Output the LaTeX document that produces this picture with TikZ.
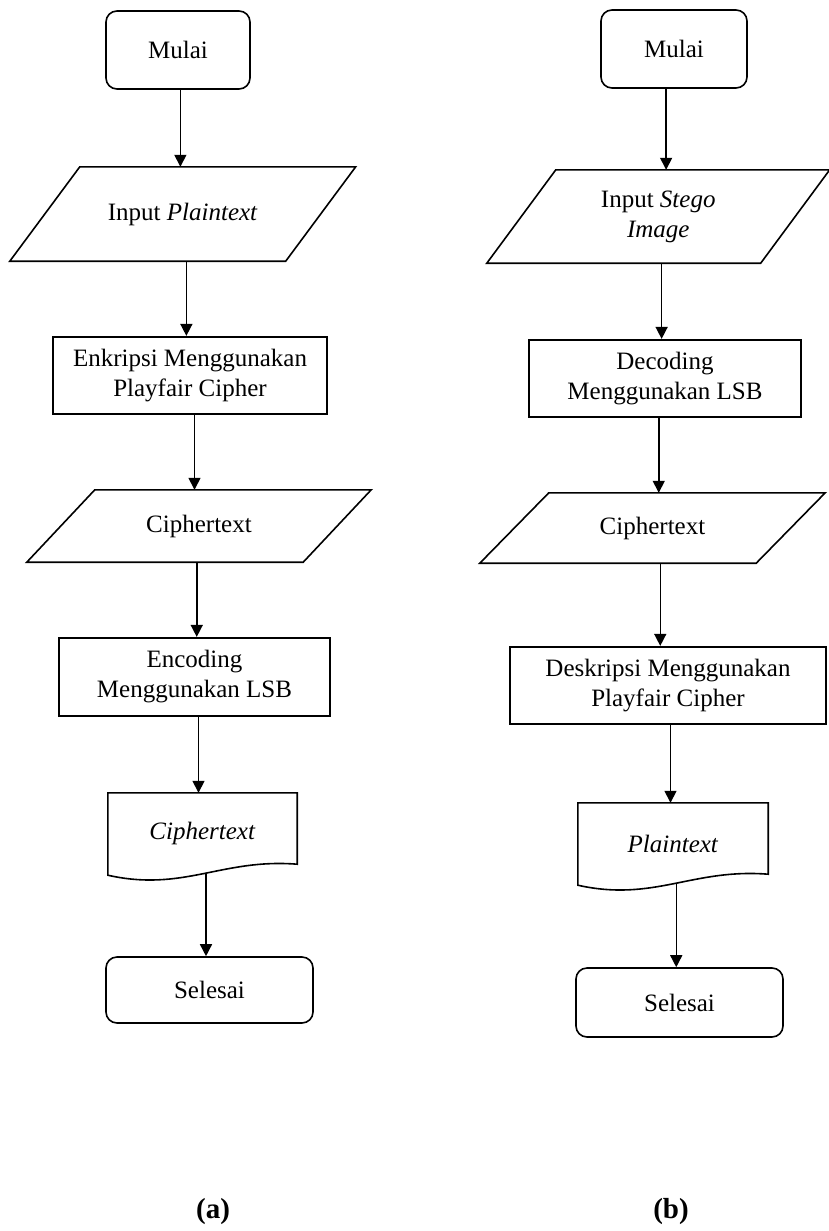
\documentclass[tikz,border=0pt]{standalone}
\usepackage{fontspec}
\setmainfont{Liberation Serif}
\usetikzlibrary{arrows.meta,calc}

% parallelogram (input/output) drawn around a plain node; #2 = horizontal slant
\newcommand{\slantbox}[2]{%
  \draw[shapeline] ($(#1.north west)+(#2/2,0)$) -- ($(#1.north east)+(#2/2,0)$)
    -- ($(#1.south east)-(#2/2,0)$) -- ($(#1.south west)-(#2/2,0)$) -- cycle;}

% document symbol with a wavy lower edge around a plain node
\newcommand{\docbox}[1]{%
  \draw[shapeline] (#1.north west) -- (#1.north east) -- ($(#1.south east)+(0,-10)$)
    .. controls ($(#1.south west)!0.6!(#1.south east)+(0,-16)$)
           and ($(#1.south west)!0.4!(#1.south east)+(0,18)$)
    .. ($(#1.south west)+(0,1)$) -- cycle;}

% vertical flow arrow from the bottom of #1 to the top of #2, halfway between their centres
\newcommand{\flowlink}[2]{%
  \draw[flow] let \p1=(#1.south), \p2=(#2.north) in
    ({(\x1+\x2)/2},\y1) -- ({(\x1+\x2)/2},\y2);}

\begin{document}
\begin{tikzpicture}[x=1pt,y=-1pt,
  every node/.style={font=\fontsize{25}{30}\selectfont, align=center, inner sep=0pt},
  terminal/.style={draw, rounded corners=11pt, line width=1.6pt},
  process/.style={draw, line width=2.2pt},
  shapeline/.style={line width=1.6pt, line join=miter},
  flow/.style={line width=1.5pt, -{Triangle[length=12pt,width=12pt]}},
  caption/.style={font=\fontsize{29}{34}\selectfont\bfseries}
]
\useasboundingbox (0,0) rectangle (828,1231);

% ---------- (a) encryption and embedding ----------
\node[terminal, minimum width=144pt, minimum height=78pt] (a1) at (178,50) {Mulai};
\node[minimum width=275.5pt, minimum height=94pt] (a2) at (182.75,214) {Input \textit{Plaintext}};
\slantbox{a2}{70}
\node[process, minimum width=274pt, minimum height=77pt] (a3) at (190,375.5)
  {Enkripsi Menggunakan\\Playfair Cipher};
\node[minimum width=276pt, minimum height=72pt] (a4) at (199,526) {Ciphertext};
\slantbox{a4}{68}
\node[process, minimum width=271pt, minimum height=78pt] (a5) at (194.5,677)
  {Encoding\\Menggunakan LSB};
\node[minimum width=189pt, minimum height=81pt] (a6) at (202.5,833.5) {\textit{Ciphertext}};
\docbox{a6}
\node[terminal, minimum width=207pt, minimum height=66pt] (a7) at (209.5,990) {Selesai};

\flowlink{a1}{a2}
\flowlink{a2}{a3}
\flowlink{a3}{a4}
\flowlink{a4}{a5}
\flowlink{a5}{a6}
\flowlink{a6}{a7}

% ---------- (b) extraction and decryption ----------
\node[terminal, minimum width=146pt, minimum height=78pt] (b1) at (674,49) {Mulai};
\node[minimum width=273.5pt, minimum height=93pt] (b2) at (658.25,216.5)
  {Input \textit{Stego}\\\textit{Image}};
\slantbox{b2}{69}
\node[process, minimum width=272pt, minimum height=77pt] (b3) at (665,378.5)
  {Decoding\\Menggunakan LSB};
\node[minimum width=276pt, minimum height=70pt] (b4) at (652.5,528) {Ciphertext};
\slantbox{b4}{69}
\node[process, minimum width=316pt, minimum height=77pt] (b5) at (668,685.5)
  {Deskripsi Menggunakan\\Playfair Cipher};
\node[minimum width=190pt, minimum height=81pt] (b6) at (673,843.5) {\textit{Plaintext}};
\docbox{b6}
\node[terminal, minimum width=207pt, minimum height=69pt] (b7) at (679.5,1002.5) {Selesai};

\flowlink{b1}{b2}
\flowlink{b2}{b3}
\flowlink{b3}{b4}
\flowlink{b4}{b5}
\flowlink{b5}{b6}
\flowlink{b6}{b7}

% ---------- captions ----------
\node[caption] (capa) at (213,1212) {(a)};
\node[caption] (capb) at (671,1212) {(b)};
\end{tikzpicture}
\end{document}
